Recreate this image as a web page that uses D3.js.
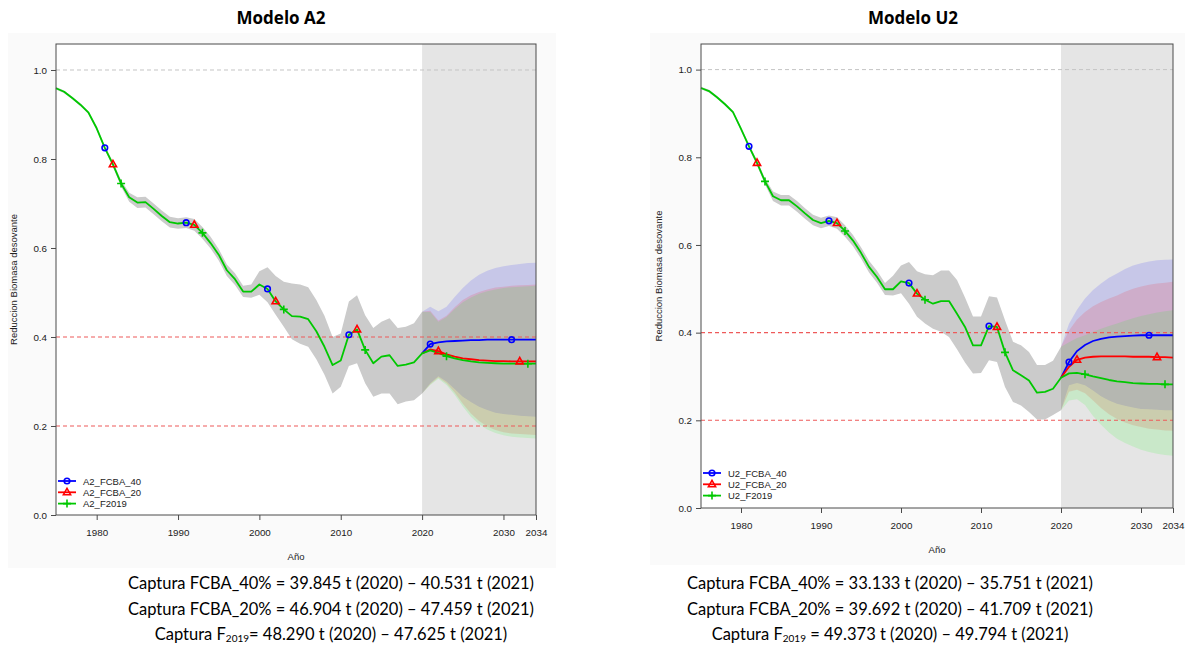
<!DOCTYPE html>
<html><head><meta charset="utf-8">
<script src="https://cdn.jsdelivr.net/npm/d3@7"></script>
<style>body{margin:0;background:#fff;} svg{display:block}</style>
</head><body><svg id="c" width="1185" height="648"></svg>
<script>
// ---------- DATA ----------
const histYears = d3.range(1975, 2021);
const projYears = d3.range(2020, 2035);
const xTicks = [1980, 1990, 2000, 2010, 2020, 2030, 2034];
const yTicks = [0.0, 0.2, 0.4, 0.6, 0.8, 1.0];
const refLines = [0.4, 0.2];
const seriesNames = ["FCBA_40", "FCBA_20", "F2019"];
const markerYears40 = [1981, 1991, 2001, 2011, 2021, 2031];
const markerYears20 = [1982, 1992, 2002, 2012, 2022, 2032];
const markerYearsF = [1983, 1993, 2003, 2013, 2023, 2033];

// Modelo A2 - historical
const a2Hist = [0.959,0.951,0.937,0.922,0.904,0.869,0.825,0.788,0.745,0.714,0.702,0.703,0.688,0.672,0.658,0.655,0.657,0.652,0.634,0.611,0.585,0.550,0.530,0.502,0.502,0.518,0.508,0.480,0.462,0.447,0.446,0.440,0.413,0.378,0.337,0.347,0.405,0.417,0.371,0.341,0.356,0.359,0.335,0.338,0.343,0.363];
const a2HistUp = [0.962,0.954,0.940,0.925,0.907,0.873,0.830,0.794,0.752,0.724,0.714,0.715,0.700,0.684,0.670,0.667,0.669,0.665,0.647,0.625,0.598,0.563,0.543,0.515,0.518,0.548,0.557,0.537,0.524,0.520,0.518,0.512,0.483,0.448,0.400,0.408,0.480,0.494,0.449,0.420,0.434,0.442,0.420,0.423,0.431,0.457];
const a2HistLo = [0.956,0.948,0.934,0.919,0.901,0.865,0.820,0.782,0.738,0.704,0.690,0.691,0.676,0.660,0.646,0.643,0.645,0.639,0.621,0.599,0.572,0.537,0.517,0.490,0.488,0.495,0.478,0.450,0.423,0.395,0.385,0.378,0.350,0.315,0.273,0.288,0.335,0.341,0.296,0.266,0.273,0.273,0.249,0.255,0.258,0.273];
// Modelo A2 - projections 2020..2034
const a2Fcba40 = [0.363,0.384,0.388,0.390,0.391,0.392,0.393,0.393,0.394,0.394,0.394,0.394,0.394,0.394,0.394];
const a2Fcba20 = [0.363,0.372,0.368,0.361,0.356,0.352,0.350,0.348,0.347,0.346,0.346,0.345,0.345,0.345,0.345];
const a2F2019  = [0.363,0.370,0.364,0.357,0.352,0.348,0.345,0.343,0.342,0.341,0.340,0.340,0.340,0.340,0.340];
const a2Fcba40Up = [0.457,0.468,0.458,0.468,0.490,0.510,0.527,0.540,0.549,0.555,0.559,0.562,0.564,0.566,0.567];
const a2Fcba40Lo = [0.273,0.296,0.312,0.300,0.283,0.266,0.254,0.243,0.236,0.230,0.227,0.225,0.223,0.222,0.221];
const a2Fcba20Up = [0.457,0.459,0.437,0.448,0.467,0.483,0.494,0.501,0.507,0.511,0.513,0.515,0.516,0.517,0.518];
const a2Fcba20Lo = [0.273,0.294,0.309,0.296,0.275,0.250,0.228,0.211,0.199,0.191,0.186,0.183,0.182,0.181,0.180];
const a2F2019Up  = [0.457,0.456,0.434,0.445,0.463,0.478,0.489,0.497,0.503,0.507,0.510,0.512,0.513,0.514,0.515];
const a2F2019Lo  = [0.273,0.292,0.306,0.292,0.270,0.244,0.221,0.204,0.192,0.184,0.179,0.176,0.174,0.173,0.172];

// Modelo U2 - historical
const u2Hist = [0.958,0.951,0.937,0.921,0.903,0.865,0.825,0.787,0.745,0.711,0.702,0.702,0.688,0.672,0.657,0.650,0.655,0.650,0.632,0.610,0.582,0.550,0.527,0.499,0.499,0.517,0.513,0.489,0.475,0.466,0.472,0.472,0.443,0.413,0.371,0.371,0.415,0.413,0.355,0.314,0.303,0.291,0.263,0.265,0.272,0.297];
const u2HistUp = [0.961,0.954,0.940,0.924,0.906,0.869,0.830,0.793,0.752,0.722,0.714,0.714,0.700,0.684,0.669,0.662,0.667,0.663,0.645,0.623,0.595,0.564,0.541,0.513,0.530,0.553,0.561,0.540,0.533,0.531,0.542,0.542,0.520,0.480,0.437,0.437,0.483,0.480,0.428,0.379,0.371,0.356,0.326,0.326,0.336,0.368];
const u2HistLo = [0.955,0.948,0.934,0.918,0.900,0.861,0.820,0.781,0.738,0.700,0.690,0.690,0.676,0.660,0.645,0.638,0.643,0.637,0.619,0.597,0.569,0.537,0.514,0.486,0.485,0.490,0.466,0.436,0.421,0.409,0.402,0.390,0.362,0.332,0.307,0.308,0.337,0.333,0.276,0.242,0.234,0.219,0.202,0.202,0.212,0.223];
// Modelo U2 - projections 2020..2034
const u2Fcba40 = [0.297,0.333,0.358,0.372,0.381,0.386,0.389,0.391,0.392,0.393,0.394,0.394,0.394,0.394,0.394];
const u2Fcba20 = [0.297,0.322,0.338,0.343,0.345,0.346,0.346,0.346,0.346,0.345,0.345,0.345,0.344,0.344,0.343];
const u2F2019  = [0.297,0.307,0.308,0.305,0.300,0.296,0.292,0.289,0.287,0.285,0.284,0.283,0.283,0.282,0.282];
const u2Fcba40Up = [0.368,0.420,0.452,0.478,0.497,0.512,0.525,0.535,0.545,0.553,0.558,0.562,0.565,0.566,0.567];
const u2Fcba40Lo = [0.223,0.280,0.285,0.280,0.268,0.255,0.245,0.238,0.233,0.229,0.226,0.225,0.224,0.223,0.223];
const u2Fcba20Up = [0.368,0.405,0.430,0.447,0.460,0.470,0.478,0.485,0.493,0.500,0.505,0.509,0.512,0.514,0.516];
const u2Fcba20Lo = [0.223,0.265,0.270,0.262,0.245,0.228,0.214,0.203,0.195,0.189,0.185,0.181,0.179,0.177,0.176];
const u2F2019Up  = [0.368,0.378,0.388,0.394,0.402,0.409,0.415,0.421,0.427,0.433,0.438,0.442,0.446,0.449,0.451];
const u2F2019Lo  = [0.223,0.245,0.248,0.235,0.210,0.190,0.172,0.158,0.148,0.140,0.133,0.128,0.124,0.121,0.119];

const captionsA2 = [
  ["Captura FCBA_40% = 39.845 t (2020) \u2013 40.531 t (2021)"],
  ["Captura FCBA_20% = 46.904 t (2020) \u2013 47.459 t (2021)"],
  ["Captura F", "2019", "= 48.290 t (2020) \u2013 47.625 t (2021)"]
];
const captionsU2 = [
  ["Captura FCBA_40% = 33.133 t (2020) \u2013 35.751 t (2021)"],
  ["Captura FCBA_20% = 39.692 t (2020) \u2013 41.709 t (2021)"],
  ["Captura F", "2019", " = 49.373 t (2020) \u2013 49.794 t (2021)"]
];

// ---------- DRAW ----------
const svg = d3.select("#c");
svg.append("rect").attr("width",1185).attr("height",648).attr("fill","#fff");

const colors = {FCBA_40:"#0000ff", FCBA_20:"#ff0000", F2019:"#00c800"};
const bandFill = {FCBA_40:"rgba(0,0,255,0.13)", FCBA_20:"rgba(255,0,0,0.13)", F2019:"rgba(0,255,0,0.12)"};
const tickFont = "'Liberation Sans', Arial, sans-serif";

function drawPanel(p) {
  const g = svg.append("g");
  g.append("rect").attr("x",p.bg[0]).attr("y",p.bg[1]).attr("width",p.bg[2]).attr("height",p.bg[3]).attr("fill","#fafafa");
  const x = d3.scaleLinear().domain([1975, 2034]).range([p.left, p.right]);
  const y = d3.scaleLinear().domain([0, 1.0584]).range([p.bottom, p.top]);
  g.append("rect").attr("x",p.left).attr("y",p.top).attr("width",p.right-p.left).attr("height",p.bottom-p.top).attr("fill","#fff");
  g.append("rect").attr("x",x(2020)).attr("y",p.top).attr("width",x(2034)-x(2020)).attr("height",p.bottom-p.top).attr("fill","#e5e5e5");

  const area = d3.area().x(d=>x(d.yr)).y0(d=>y(d.lo)).y1(d=>y(d.hi));
  const hist = histYears.map((yr,i)=>({yr, v:p.hist[i], hi:p.histUp[i], lo:p.histLo[i]}));
  g.append("path").datum(hist).attr("d",area).attr("fill","#cbcbcb");
  seriesNames.forEach(s=>{
    const d = projYears.map((yr,i)=>({yr, hi:p.proj[s].up[i], lo:p.proj[s].lo[i]}));
    g.append("path").datum(d).attr("d",area).attr("fill",bandFill[s]);
  });

  g.append("line").attr("x1",p.left).attr("x2",p.right).attr("y1",y(1)).attr("y2",y(1))
    .attr("stroke","#c4c4c4").attr("stroke-width",1).attr("stroke-dasharray","4,3");
  refLines.forEach(v=>{
    g.append("line").attr("x1",p.left).attr("x2",p.right).attr("y1",y(v)).attr("y2",y(v))
      .attr("stroke","#ee5a5a").attr("stroke-width",1.1).attr("stroke-dasharray","4,3");
  });

  const line = d3.line().x(d=>x(d.yr)).y(d=>y(d.v));
  const full = {};
  seriesNames.forEach(s=>{
    full[s] = hist.map(d=>({yr:d.yr, v:d.v})).concat(projYears.slice(1).map((yr,i)=>({yr, v:p.proj[s].mean[i+1]})));
  });
  ["FCBA_40","FCBA_20"].forEach(s=>{
    g.append("path").datum(full[s].filter(d=>d.yr>=2020)).attr("d",line).attr("fill","none")
      .attr("stroke",colors[s]).attr("stroke-width",1.8);
  });
  g.append("path").datum(full.F2019).attr("d",line).attr("fill","none")
    .attr("stroke",colors.F2019).attr("stroke-width",1.8).attr("stroke-linejoin","round");

  const markYears = {FCBA_40:markerYears40, FCBA_20:markerYears20, F2019:markerYearsF};
  seriesNames.forEach(s=>{
    markYears[s].forEach(yr=>{
      const d = full[s].find(e=>e.yr===yr);
      drawMarker(g, s, x(d.yr), y(d.v));
    });
  });

  g.append("rect").attr("x",p.left).attr("y",p.top).attr("width",p.right-p.left).attr("height",p.bottom-p.top)
    .attr("fill","none").attr("stroke","#4a4a4a").attr("stroke-width",1);

  const xa = g.append("g").attr("transform",`translate(0,${p.bottom})`)
    .call(d3.axisBottom(x).tickValues(xTicks).tickFormat(d3.format("d")).tickSize(5).tickPadding(9));
  const ya = g.append("g").attr("transform",`translate(${p.left},0)`)
    .call(d3.axisLeft(y).tickValues(yTicks).tickFormat(d3.format(".1f")).tickSize(5).tickPadding(4));
  [xa, ya].forEach(a=>{
    a.select(".domain").remove();
    a.selectAll("line").attr("stroke","#4a4a4a");
    a.selectAll("text").attr("font-family",tickFont).attr("font-size",9.8).attr("fill","#222");
  });

  g.append("text").attr("x",(p.left+p.right)/2).attr("y",p.bottom+45).attr("text-anchor","middle")
    .attr("font-family",tickFont).attr("font-size",9.5).attr("fill","#222").text("A\u00f1o");
  g.append("text").attr("transform",`translate(${p.left-39},${(p.top+p.bottom)/2}) rotate(-90)`)
    .attr("text-anchor","middle").attr("font-family",tickFont).attr("font-size",9.5).attr("fill","#222")
    .text("Reduccion Biomasa desovante");

  seriesNames.forEach((s,i)=>{
    const ly = p.legendY + i*11.3;
    g.append("line").attr("x1",p.left+2).attr("x2",p.left+20).attr("y1",ly).attr("y2",ly)
      .attr("stroke",colors[s]).attr("stroke-width",1.8);
    drawMarker(g, s, p.left+11, ly);
    g.append("text").attr("x",p.left+27).attr("y",ly+3.5).attr("font-family",tickFont).attr("font-size",9.5)
      .attr("fill","#222").text(p.prefix + "_" + s);
  });

  svg.append("text").attr("x",p.titleX).attr("y",24).attr("text-anchor","middle")
    .attr("font-family","'Open Sans', sans-serif").attr("font-weight","bold").attr("font-size",17)
    .attr("fill","#000").text(p.title);

  p.captions.forEach((c,i)=>{
    const t = svg.append("text").attr("x",p.capX).attr("y",589 + i*25.5).attr("text-anchor","middle")
      .attr("font-family","Lato, 'Open Sans', sans-serif").attr("font-size",16.5).attr("fill","#000");
    t.append("tspan").text(c[0]);
    if (c.length > 1) {
      t.append("tspan").attr("font-size",10).attr("dy",2).text(c[1]);
      t.append("tspan").attr("dy",-2).text(c[2]);
    }
  });
}

function drawMarker(g, s, cx, cy) {
  const c = colors[s];
  if (s === "FCBA_40") {
    g.append("circle").attr("cx",cx).attr("cy",cy).attr("r",2.8).attr("fill","none").attr("stroke",c).attr("stroke-width",1.6);
  } else if (s === "FCBA_20") {
    const r = 4;
    g.append("path").attr("d",`M${cx},${cy-r}L${cx+r*0.9},${cy+r*0.6}L${cx-r*0.9},${cy+r*0.6}Z`)
      .attr("fill","none").attr("stroke",c).attr("stroke-width",1.6);
  } else {
    g.append("path").attr("d",`M${cx-4},${cy}H${cx+4}M${cx},${cy-4}V${cy+4}`)
      .attr("stroke",c).attr("stroke-width",1.6);
  }
}

drawPanel({
  prefix:"A2", title:"Modelo A2", titleX:281, capX:331,
  bg:[8,33,548,535],
  left:56, right:536, top:44, bottom:515, legendY:481,
  hist:a2Hist, histUp:a2HistUp, histLo:a2HistLo,
  proj:{
    FCBA_40:{mean:a2Fcba40, up:a2Fcba40Up, lo:a2Fcba40Lo},
    FCBA_20:{mean:a2Fcba20, up:a2Fcba20Up, lo:a2Fcba20Lo},
    F2019:{mean:a2F2019, up:a2F2019Up, lo:a2F2019Lo}
  },
  captions:captionsA2
});
drawPanel({
  prefix:"U2", title:"Modelo U2", titleX:913, capX:890,
  bg:[650,33,535,532],
  left:701, right:1173, top:44, bottom:508, legendY:473,
  hist:u2Hist, histUp:u2HistUp, histLo:u2HistLo,
  proj:{
    FCBA_40:{mean:u2Fcba40, up:u2Fcba40Up, lo:u2Fcba40Lo},
    FCBA_20:{mean:u2Fcba20, up:u2Fcba20Up, lo:u2Fcba20Lo},
    F2019:{mean:u2F2019, up:u2F2019Up, lo:u2F2019Lo}
  },
  captions:captionsU2
});
</script></body></html>
